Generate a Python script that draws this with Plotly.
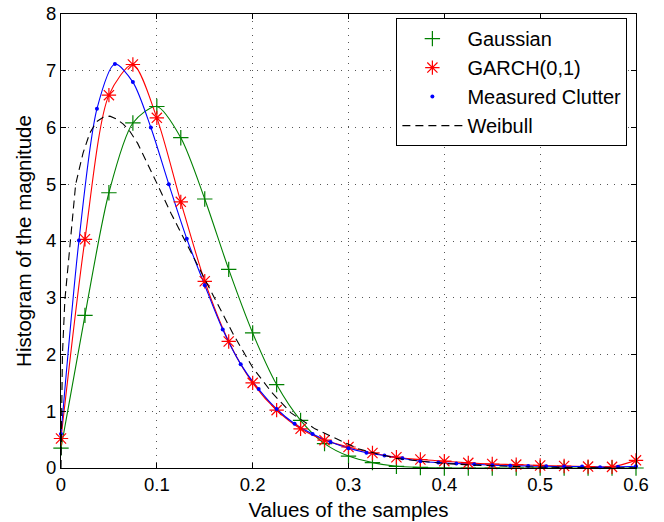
import plotly.graph_objects as go

# ---- data ----
x_coarse = [0, 0.025, 0.05, 0.075, 0.1, 0.125, 0.15, 0.175, 0.2, 0.225, 0.25, 0.275,
            0.3, 0.325, 0.35, 0.375, 0.4, 0.425, 0.45, 0.475, 0.5, 0.525, 0.55, 0.575, 0.6]
gauss_y = [0.35, 2.69, 4.85, 6.08, 6.37, 5.82, 4.74, 3.50, 2.38, 1.47, 0.84, 0.43,
           0.21, 0.095, 0.03, 0.01, 0, 0, 0, 0, 0, 0, 0, 0, 0]
garch_y = [0.52, 4.03, 6.57, 7.11, 6.17, 4.69, 3.29, 2.23, 1.50, 1.02, 0.69, 0.49,
           0.37, 0.265, 0.19, 0.15, 0.12, 0.09, 0.07, 0.06, 0.045, 0.035, 0.025, 0.02, 0.135]

x_fine = [0, 0.01875, 0.0375, 0.05625, 0.075, 0.09375, 0.1125, 0.13125, 0.15, 0.16875,
          0.1875, 0.20625, 0.225, 0.24375, 0.2625, 0.28125, 0.3, 0.31875, 0.3375, 0.35625,
          0.375, 0.39375, 0.4125, 0.43125, 0.45, 0.46875, 0.4875, 0.50625, 0.525, 0.54375,
          0.5625, 0.58125, 0.6]
clutter_y = [0.6, 4.01, 6.33, 7.12, 6.80, 6.0, 5.0, 4.04, 3.22, 2.44, 1.83, 1.39, 1.04,
             0.78, 0.60, 0.46, 0.35, 0.27, 0.22, 0.17, 0.12, 0.095, 0.08, 0.065, 0.05,
             0.04, 0.035, 0.03, 0.025, 0.025, 0.015, 0.02, 0.03]

weib_x = [0, 0.0005, 0.0015, 0.004, 0.0094, 0.0153, 0.023, 0.03, 0.037, 0.044, 0.051,
          0.058, 0.065, 0.072, 0.08, 0.09, 0.1, 0.115, 0.13, 0.145, 0.16, 0.18, 0.2,
          0.22, 0.24, 0.265, 0.29, 0.31, 0.33, 0.35, 0.375, 0.4, 0.43, 0.46, 0.5, 0.55, 0.6]
weib_y = [0, 1.0, 2.0, 2.95, 4.0, 5.0, 5.55, 5.9, 6.1, 6.18, 6.2, 6.15, 6.06, 5.93,
          5.72, 5.38, 5.02, 4.48, 3.98, 3.5, 3.0, 2.35, 1.77, 1.33, 0.97, 0.69, 0.5,
          0.34, 0.25, 0.17, 0.12, 0.08, 0.05, 0.03, 0.015, 0.005, 0.002]

x_ticks = [0, 0.1, 0.2, 0.3, 0.4, 0.5, 0.6]
x_tick_text = ["0", "0.1", "0.2", "0.3", "0.4", "0.5", "0.6"]
y_ticks = [0, 1, 2, 3, 4, 5, 6, 7, 8]

GREEN = "#008000"
RED = "#ff0000"
BLUE = "#0000ff"
FONT = "Liberation Sans, Arial, sans-serif"

fig = go.Figure()

# smooth lines (not in legend)
fig.add_trace(go.Scatter(x=x_coarse, y=gauss_y, mode="lines", line=dict(color=GREEN, width=1.1, shape="spline", smoothing=0.8),
                         showlegend=False, hoverinfo="skip", cliponaxis=False))
fig.add_trace(go.Scatter(x=x_coarse, y=garch_y, mode="lines", line=dict(color=RED, width=1.1, shape="spline", smoothing=0.8),
                         showlegend=False, hoverinfo="skip", cliponaxis=False))
fig.add_trace(go.Scatter(x=x_fine, y=clutter_y, mode="lines", line=dict(color=BLUE, width=1.1, shape="spline", smoothing=0.8),
                         showlegend=False, hoverinfo="skip", cliponaxis=False))

# markers (legend entries)
fig.add_trace(go.Scatter(x=x_coarse, y=gauss_y, mode="markers", name="Gaussian",
                         marker=dict(symbol="cross-thin-open", size=11, line=dict(color=GREEN, width=1.2), color=GREEN),
                         cliponaxis=False))
fig.add_trace(go.Scatter(x=x_coarse, y=garch_y, mode="markers", name="GARCH(0,1)",
                         marker=dict(symbol="asterisk-open", size=12, line=dict(color=RED, width=1.2), color=RED),
                         cliponaxis=False))
fig.add_trace(go.Scatter(x=x_fine, y=clutter_y, mode="markers", name="Measured Clutter",
                         marker=dict(symbol="circle", size=4, color=BLUE, line=dict(width=0)),
                         cliponaxis=False))
fig.add_trace(go.Scatter(x=weib_x, y=weib_y, mode="lines", name="Weibull",
                         line=dict(color="black", width=1.1, dash="8px,5px"),
                         cliponaxis=False))

axis_common = dict(
    showline=True, linecolor="black", linewidth=1, mirror="ticks",
    ticks="inside", ticklen=5, tickcolor="black", tickwidth=1,
    showgrid=True, gridcolor="#555555", gridwidth=1, griddash="1px,6px",
    zeroline=False, automargin=False,
    tickfont=dict(family=FONT, size=18.5, color="black"),
)

fig.update_xaxes(range=[0, 0.6], tickvals=x_ticks, ticktext=x_tick_text,
                 title=dict(text="Values of the samples", standoff=8,
                            font=dict(family=FONT, size=20.5, color="black")),
                 **axis_common)
fig.update_yaxes(range=[0, 8], tickvals=y_ticks,
                 title=dict(text="Histogram of the magnitude", standoff=8,
                            font=dict(family=FONT, size=20.5, color="black")),
                 **axis_common)

fig.update_layout(
    width=664, height=522,
    margin=dict(l=61, r=28, t=14, b=54),
    paper_bgcolor="white", plot_bgcolor="white",
    legend=dict(x=0.985, y=0.991, xanchor="right", yanchor="top",
                bgcolor="white", bordercolor="black", borderwidth=1,
                itemwidth=60,
                font=dict(family=FONT, size=20, color="black")),
)

# remove the browser's default 8px body margin so the figure sits at the page origin
fig.write_html("out.html", config={"displayModeBar": False},
               post_script="document.body.style.margin='0px';")
